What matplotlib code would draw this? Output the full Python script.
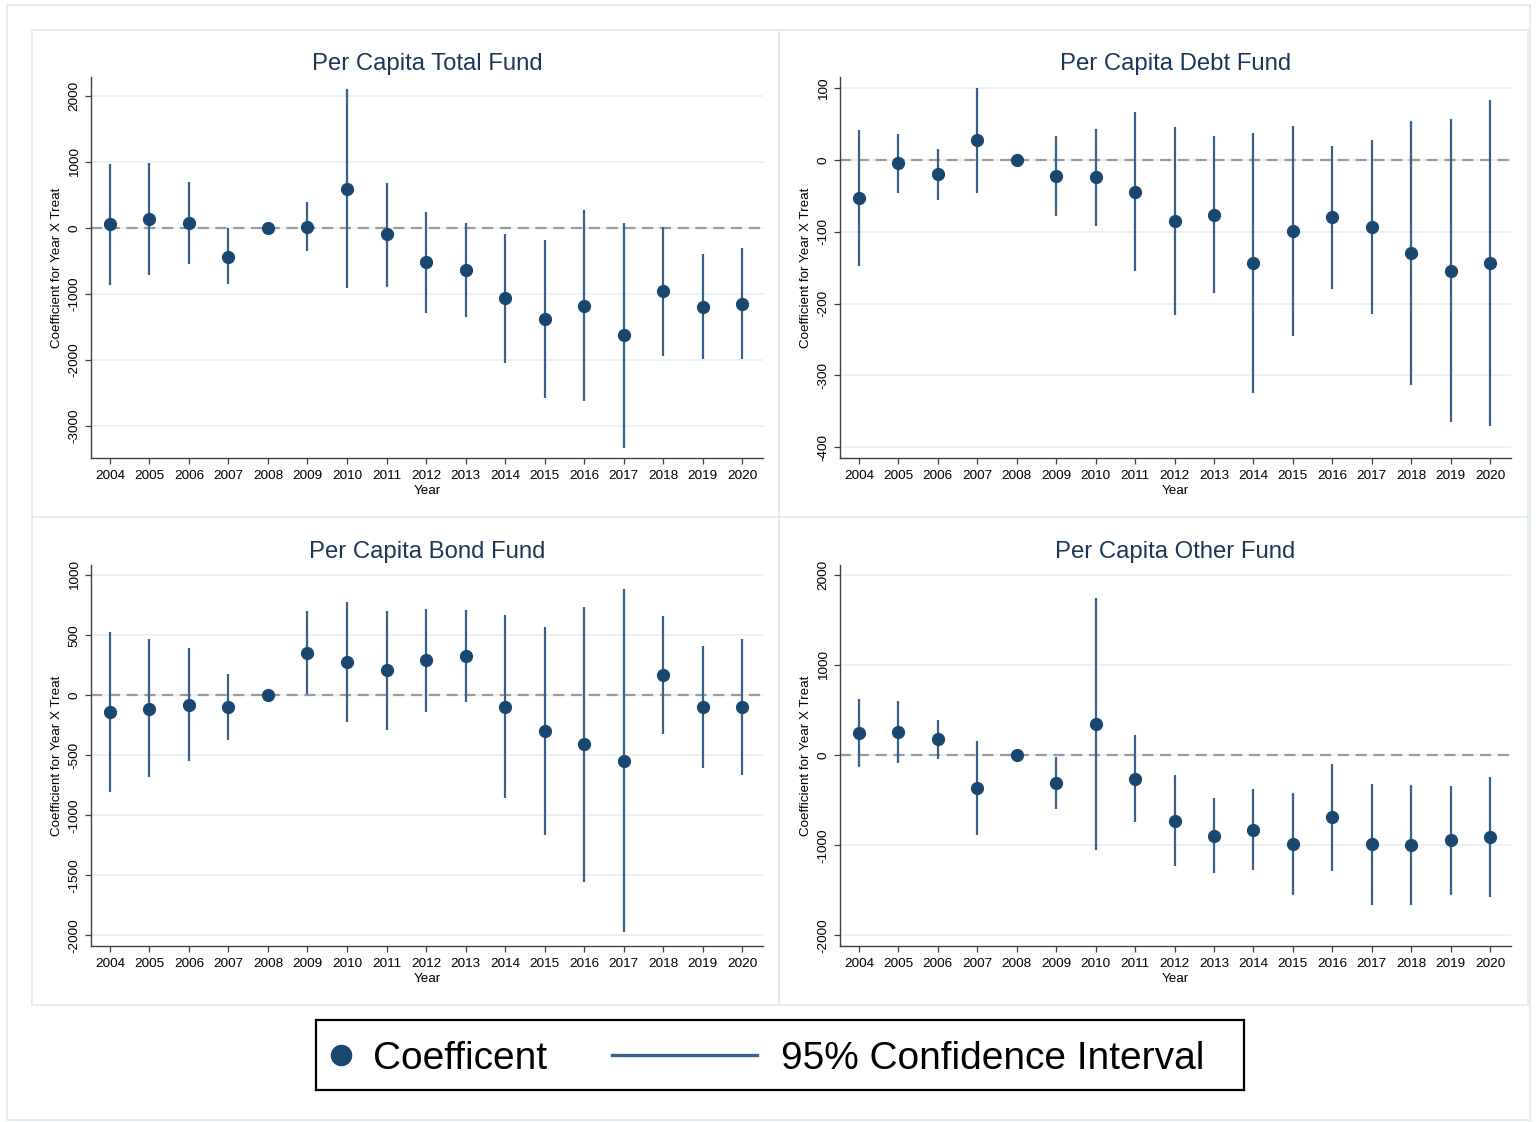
import matplotlib.pyplot as plt
import numpy as np
from matplotlib.patches import Rectangle

plt.rcParams['font.family'] = ['Liberation Sans', 'DejaVu Sans']
plt.rcParams['axes.unicode_minus'] = False

years = np.arange(2004, 2021)

# Per Capita Total Fund
total_coef = [56, 136, 76, -434, 0, 25, 601, -96, -520, -641, -1066, -1379, -1177, -1626, -955, -1197, -1152]
total_lo = [-864, -712, -545, -854, np.nan, -348, -914, -889, -1293, -1354, -2051, -2571, -2621, -3328, -1934, -1990, -1990]
total_hi = [975, 990, 702, 0, np.nan, 399, 2116, 687, 247, 71, -81, -182, 273, 71, 20, -399, -298]

# Per Capita Debt Fund
debt_coef = [-52.5, -4.2, -19.5, 27.9, 0, -21.4, -23.7, -43.7, -84, -75.7, -143, -98.5, -79.4, -92.5, -129, -153.8, -143]
debt_lo = [-147.7, -45.5, -55.3, -45.5, np.nan, -78, -91, -154.7, -215.6, -184.9, -323.8, -244.8, -179.3, -214.2, -313, -365, -370]
debt_hi = [41.8, 37.2, 15.3, 100.8, np.nan, 34.4, 43.7, 67.4, 46.9, 33.4, 38.6, 47.8, 20.4, 28.8, 55.3, 58, 84]

# Per Capita Bond Fund
bond_coef = [-136, -111, -78, -97, 0, 356, 281, 208, 294, 331, -94, -297, -406, -544, 169, -97, -97]
bond_lo = [-803, -683, -550, -372, np.nan, 11, -219, -289, -139, -53, -858, -1161, -1556, -1969, -319, -603, -667]
bond_hi = [531, 467, 392, 178, np.nan, 700, 781, 706, 719, 708, 667, 569, 739, 883, 658, 408, 472]

# Per Capita Other Fund
other_coef = [252, 256, 178, -363, 0, -311, 352, -259, -726, -893, -826, -981, -685, -989, -993, -944, -904]
other_lo = [-126, -89, -37, -885, np.nan, -600, -1048, -744, -1230, -1307, -1278, -1548, -1285, -1659, -1659, -1548, -1574]
other_hi = [626, 604, 389, 163, np.nan, -19, 1744, 222, -222, -478, -374, -419, -93, -322, -333, -344, -241]

panels = [
    ("Per Capita Total Fund", total_coef, total_lo, total_hi, (-3485, 2292), np.arange(-3000, 2001, 1000)),
    ("Per Capita Debt Fund", debt_coef, debt_lo, debt_hi, (-415, 116), np.arange(-400, 101, 100)),
    ("Per Capita Bond Fund", bond_coef, bond_lo, bond_hi, (-2089, 1086), np.arange(-2000, 1001, 500)),
    ("Per Capita Other Fund", other_coef, other_lo, other_hi, (-2119, 2115), np.arange(-2000, 2001, 1000)),
]

navy = '#1a476f'
ci_color = '#3a5f88'
W, H = 1538, 1122

fig = plt.figure(figsize=(W / 100, H / 100), dpi=100)

def px_rect(x0, y0, x1, y1):
    return [x0 / W, 1 - y1 / H, (x1 - x0) / W, (y1 - y0) / H]

# light frames like the Stata graph regions
frame_color = '#e2ebee'
for x0, y0, x1, y1 in [(7, 5, 1530, 1120), (32, 30, 779, 517), (779, 30, 1528, 517),
                       (32, 517, 779, 1005), (779, 517, 1528, 1005)]:
    fig.add_artist(Rectangle((x0 / W, 1 - y1 / H), (x1 - x0) / W, (y1 - y0) / H,
                             transform=fig.transFigure, fill=False,
                             edgecolor=frame_color, linewidth=1.3))

positions = [(91, 77, 763, 458), (840, 77, 1511, 458), (91, 565, 763, 946), (840, 565, 1511, 946)]

for (title, coef, lo, hi, ylim, yticks), pos in zip(panels, positions):
    ax = fig.add_axes(px_rect(*pos))
    coef = np.array(coef, dtype=float)
    lo = np.array(lo, dtype=float)
    hi = np.array(hi, dtype=float)
    ok = ~np.isnan(lo)

    for yt in yticks:
        ax.axhline(yt, color='#e8f0f2', linewidth=1.2, zorder=0)
    ax.axhline(0, color='#9a9a9a', linewidth=1.6, linestyle=(0, (5, 3)), zorder=1)

    ax.vlines(years[ok], lo[ok], hi[ok], color=ci_color, linewidth=1.6, zorder=2)
    ax.plot(years, coef, 'o', color=navy, markersize=8.5, zorder=3)

    ax.set_xlim(2003.52, 2020.53)
    ax.set_ylim(*ylim)
    ax.set_xticks(years)
    ax.set_yticks(yticks)
    ax.set_yticklabels([str(v) for v in yticks])

    for side in ['top', 'right']:
        ax.spines[side].set_visible(False)
    for side in ['left', 'bottom']:
        ax.spines[side].set_color('#404040')
        ax.spines[side].set_linewidth(1.0)
    ax.tick_params(axis='both', colors='#404040', labelcolor='black', length=4, width=0.9, labelsize=9.7)
    ax.tick_params(axis='y', labelrotation=90, pad=3.5)
    ax.tick_params(axis='x', pad=4.5)
    for lab in ax.get_yticklabels():
        lab.set_va('center')

    ax.set_title(title, fontsize=17.2, color='#1c3659', pad=5)
    ax.set_ylabel("Coefficient for Year X Treat", fontsize=9.6)
    ax.set_xlabel("Year", fontsize=9.6)
    ax.yaxis.set_label_coords(-0.042, 0.5)
    ax.xaxis.set_label_coords(0.5, -0.072)

# legend box
lax = fig.add_axes(px_rect(316, 1020, 1244, 1090))
lax.set_xlim(0, 928)
lax.set_ylim(0, 70)
lax.set_xticks([])
lax.set_yticks([])
for s in lax.spines.values():
    s.set_color('black')
    s.set_linewidth(1.6)
lax.plot([25], [35], 'o', color=navy, markersize=14.5)
lax.plot([296, 441], [35, 35], color=ci_color, linewidth=2.4)
lax.text(57, 31, "Coefficent", fontsize=28, va='center', ha='left')
lax.text(465, 31, "95% Confidence Interval", fontsize=28, va='center', ha='left')

fig.savefig("out.png", dpi=100)
